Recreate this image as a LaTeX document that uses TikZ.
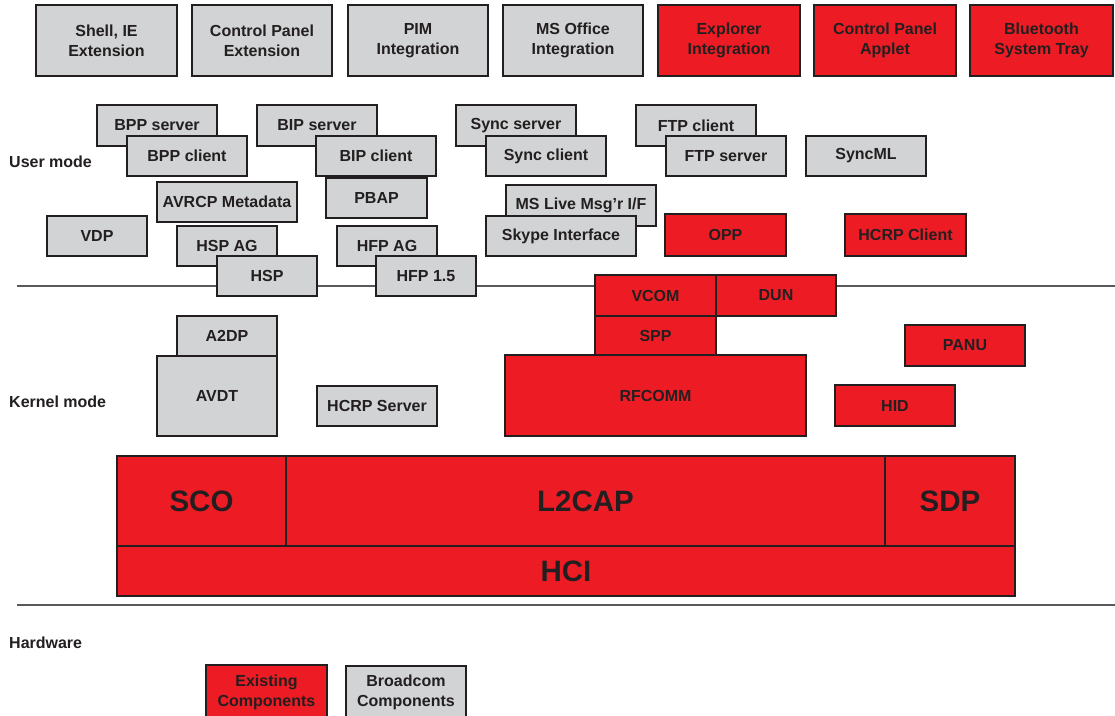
\documentclass[tikz,border=0pt]{standalone}
\usepackage{fontspec}
\setmainfont{Liberation Sans}
\definecolor{bcred}{HTML}{ED1C24}
\definecolor{bcgray}{HTML}{D1D3D4}
\definecolor{txt}{HTML}{231F20}
\definecolor{rule}{HTML}{58595B}
\tikzset{
  box/.style={draw=txt, line width=1.3pt, inner sep=0pt, text=txt, align=center,
    font=\bfseries\fontsize{16}{20}\selectfont},
  gbox/.style={box, fill=bcgray},
  rbox/.style={box, fill=bcred},
  bigtxt/.style={font=\bfseries\fontsize{29.5}{32}\selectfont},
  wh/.style 2 args={minimum width=#1, minimum height=#2},
  lbl/.style={anchor=west, inner sep=0pt, text=txt, font=\bfseries\fontsize{16}{20}\selectfont},
  sep/.style={draw=rule, line width=1.4pt},
}
\begin{document}
\begin{tikzpicture}[x=1pt,y=-1pt]
\useasboundingbox (0,0) rectangle (1115,715);
\clip (0,0) rectangle (1115,715);
\fill[white] (0,0) rectangle (1115,715);
% separator lines
\coordinate (l1a) at (17,286); \coordinate (l1b) at (1115,286);
\coordinate (l2a) at (17,605); \coordinate (l2b) at (1115,605);
\draw[sep] (l1a) -- (l1b);
\draw[sep] (l2a) -- (l2b);
% top row
\node[gbox, wh={141}{71}] (shell) at (106.5,40.5) {Shell, IE\\Extension};
\node[gbox, wh={140}{71}] (cpext) at (262,40.5) {Control Panel\\Extension};
\node[gbox, wh={140}{71}] (pim) at (418,40.5) {PIM\\Integration};
\node[gbox, wh={140}{71}] (msoff) at (573,40.5) {MS Office\\Integration};
\node[rbox, wh={142}{71}] (expl) at (729,40.5) {Explorer\\Integration};
\node[rbox, wh={142}{71}] (cpapp) at (885,40.5) {Control Panel\\Applet};
\node[rbox, wh={143}{71}] (bttray) at (1041.5,40.5) {Bluetooth\\System Tray};
% user mode
\node[gbox, wh={120}{41}] (bppsrv) at (157,125.5) {BPP server};
\node[gbox, wh={120}{40}] (bppcli) at (187,156) {BPP client};
\node[gbox, wh={120}{41}] (bipsrv) at (317,125.5) {BIP server};
\node[gbox, wh={120}{40}] (bipcli) at (376,156) {BIP client};
\node[gbox, wh={120}{41}] (syncsrv) at (516,125.5) {Sync server};
\node[gbox, wh={120}{40}] (synccli) at (546,156) {Sync client};
\node[gbox, wh={120}{41}] (ftpcli) at (696,125.5) {FTP client};
\node[gbox, wh={120}{40}] (ftpsrv) at (726,156) {FTP server};
\node[gbox, wh={120}{40}] (syncml) at (866,156) {SyncML};
\node[gbox, wh={140}{40}] (avrcp) at (227,202) {AVRCP Metadata};
\node[gbox, wh={101}{40}] (pbap) at (376.5,198) {PBAP};
\node[gbox, wh={150}{41}] (mslive) at (581,205.5) {MS Live Msg’r I/F};
\node[gbox, wh={100}{40}] (vdp) at (97,236) {VDP};
\node[gbox, wh={100}{40}] (hspag) at (227,246) {HSP AG};
\node[gbox, wh={100}{40}] (hfpag) at (387,246) {HFP AG};
\node[gbox, wh={150}{40}] (skype) at (561,236) {Skype Interface};
\node[rbox, wh={121}{42}] (opp) at (725.5,235) {OPP};
\node[rbox, wh={121}{42}] (hcrpcli) at (905.5,235) {HCRP Client};
\node[gbox, wh={100}{40}] (hsp) at (267,276) {HSP};
\node[gbox, wh={100}{40}] (hfp15) at (426,276) {HFP 1.5};
% kernel mode
\node[rbox, wh={121}{41}] (vcom) at (655.5,295.5) {VCOM};
\node[rbox, wh={120}{41}] (dun) at (776,295.5) {DUN};
\node[rbox, wh={121}{40}] (spp) at (655.5,336) {SPP};
\node[rbox, wh={301}{81}] (rfcomm) at (655.5,395.5) {RFCOMM};
\node[rbox, wh={120}{41}] (panu) at (965,345.5) {PANU};
\node[rbox, wh={120}{41}] (hid) at (895,405.5) {HID};
\node[gbox, wh={100}{40}] (a2dp) at (227,336) {A2DP};
\node[gbox, wh={120}{80}] (avdt) at (217,396) {AVDT};
\node[gbox, wh={120}{40}] (hcrpsrv) at (377,406) {HCRP Server};
\node[rbox, bigtxt, wh={169}{90}] (sco) at (201.5,501) {SCO};
\node[rbox, bigtxt, wh={599}{90}] (l2cap) at (585.5,501) {L2CAP};
\node[rbox, bigtxt, wh={130}{90}] (sdp) at (950,501) {SDP};
\node[rbox, bigtxt, wh={898}{50}] (hci) at (566,571) {HCI};
% legend
\node[rbox, wh={121}{54}] (existing) at (266.5,692) {Existing\\Components};
\node[gbox, wh={120}{52}] (broadcom) at (406,692) {Broadcom\\Components};
% labels
\node[lbl] (umode) at (9,162) {User mode};
\node[lbl] (kmode) at (9,402) {Kernel mode};
\node[lbl] (hw) at (9,643) {Hardware};
\end{tikzpicture}
\end{document}
